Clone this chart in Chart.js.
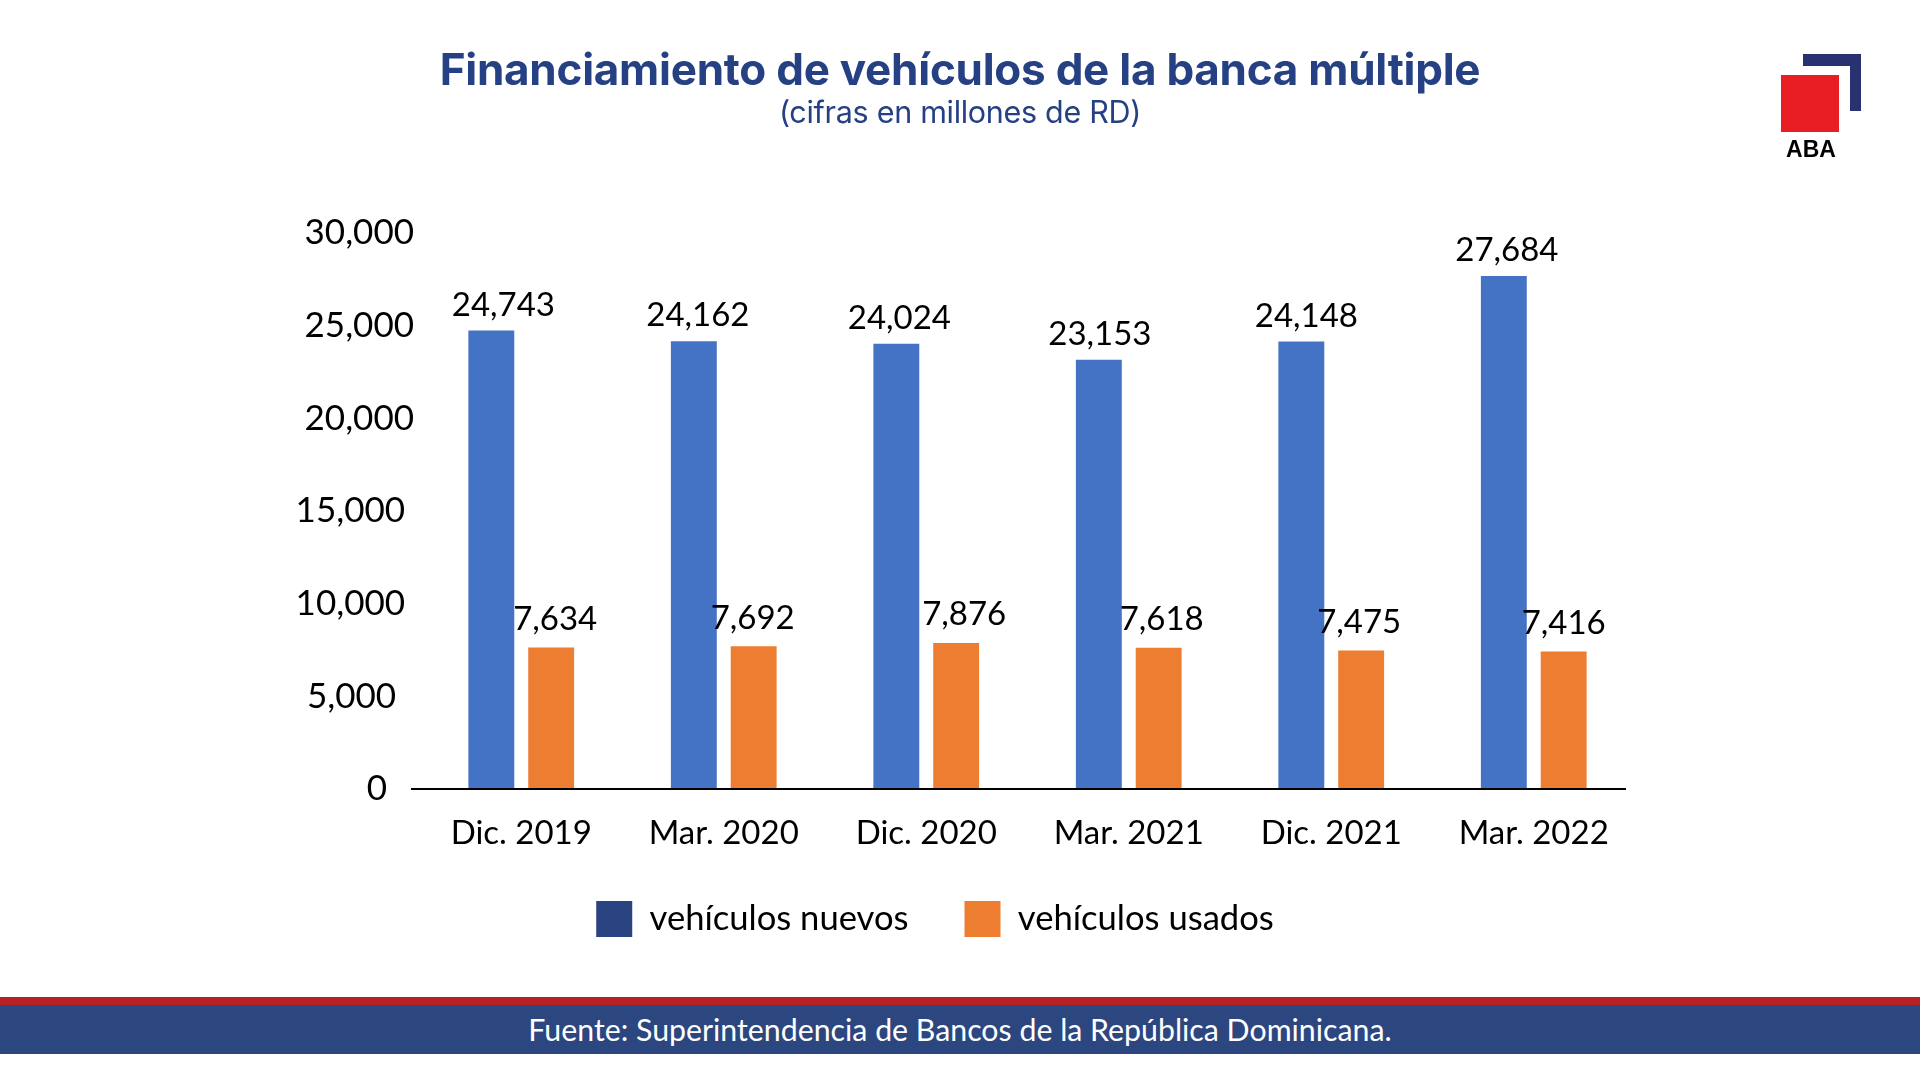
<!DOCTYPE html>
<html lang="es">
<head>
<meta charset="utf-8">
<title>Financiamiento de vehículos</title>
<script src="https://cdn.jsdelivr.net/npm/chart.js@4"></script>
<style>
  html,body{margin:0;padding:0;background:#fff;width:1920px;height:1080px;overflow:hidden;font-family:Lato,sans-serif}
  #wrap{position:absolute;left:0;top:0;width:1920px;height:980px}
  .abs{position:absolute}
  #t1{left:0;width:1920px;top:39px;text-align:center;font:700 44px Inter,sans-serif;color:#254184;letter-spacing:-0.25px;line-height:60px}
  #t2{left:0;width:1920px;top:92px;text-align:center;font:400 30.5px Inter,sans-serif;color:#254184;line-height:40px;letter-spacing:-.3px}
  #red{left:0;top:997px;width:1920px;height:8px;background:#B72025}
  #blue{left:0;top:1005px;width:1920px;height:49px;background:#2C4680;color:#fff;text-align:center;font:400 30.3px Lato,sans-serif;line-height:49px}
  #lg1{left:1803px;top:54px;width:58px;height:12px;background:#283270}
  #lg2{left:1850px;top:54px;width:11px;height:57px;background:#283270}
  #lg3{left:1781px;top:75px;width:58px;height:57px;background:#E91D24;box-shadow:0 0 0 1px #fff}
  #lg4{left:1761px;width:100px;top:135px;text-align:center;font:700 23px "Liberation Sans",sans-serif;color:#000;line-height:28px}
</style>
</head>
<body>
<div id="wrap"><canvas id="c" width="1920" height="980"></canvas></div>
<div class="abs" id="t1">Financiamiento de vehículos de la banca múltiple</div>
<div class="abs" id="t2">(cifras en millones de RD)</div>
<div class="abs" id="lg1"></div><div class="abs" id="lg2"></div><div class="abs" id="lg3"></div>
<div class="abs" id="lg4">ABA</div>
<div class="abs" id="red"></div>
<div class="abs" id="blue">Fuente: Superintendencia de Bancos de la República Dominicana.</div>
<script>
const categories = ["Dic. 2019","Mar. 2020","Dic. 2020","Mar. 2021","Dic. 2021","Mar. 2022"];
const nuevos = [24743,24162,24024,23153,24148,27684];
const usados = [7634,7692,7876,7618,7475,7416];
const seriesNames = ["vehículos nuevos","vehículos usados"];
const barColors = ["#4472C4","#ED7D31"];
const legendColors = ["#2A4482","#ED7D31"];
const yTicks = [0,5000,10000,15000,20000,25000,30000];
const yTickTrail = [3,2,1,1,0,0,0];

const labelFont = '33px Lato, sans-serif';
const labelDx = [[12,4,3,1,5,3],[4,-1,8,3,-2,0]];
const labelLift = [9,12];

const valueLabels = {
  id:'valueLabels',
  afterDatasetsDraw(chart){
    const ctx = chart.ctx;
    ctx.save();
    ctx.font = labelFont; ctx.fillStyle = '#000';
    ctx.textAlign = 'center'; ctx.textBaseline = 'bottom';
    chart.data.datasets.forEach((ds,i)=>{
      chart.getDatasetMeta(i).data.forEach((el,j)=>{
        ctx.fillText(ds.data[j].toLocaleString('en-US'), el.x + labelDx[i][j], el.y - labelLift[i]);
      });
    });
    ctx.restore();
  }
};
const baseLine = {
  id:'baseLine',
  afterLayout(chart){ chart.scales.x.bottom += 30; },
  afterDatasetsDraw(chart){
    const {ctx,chartArea:a,scales:{y}} = chart;
    ctx.save(); ctx.strokeStyle='#000'; ctx.lineWidth=2;
    ctx.beginPath(); ctx.moveTo(a.left-9,y.getPixelForValue(0)); ctx.lineTo(a.right-9,y.getPixelForValue(0)); ctx.stroke();
    ctx.restore();
  }
};

new Chart(document.getElementById('c'),{
  type:'bar',
  data:{labels:categories,datasets:[
    {label:seriesNames[0],data:nuevos,backgroundColor:barColors[0],categoryPercentage:0.591,barPercentage:0.767},
    {label:seriesNames[1],data:usados,backgroundColor:barColors[1],categoryPercentage:0.591,barPercentage:0.767}
  ]},
  options:{
    responsive:false,animation:false,
    layout:{padding:{top:233,left:235,right:285,bottom:33}},
    plugins:{
      title:{display:false},
      tooltip:{enabled:false},
      legend:{position:'bottom',labels:{
        boxWidth:36,boxHeight:36,padding:56,color:'#000',font:{family:'Lato, sans-serif',size:34.6},
        generateLabels:(chart)=>chart.data.datasets.map((d,i)=>({text:d.label,fillStyle:legendColors[i],strokeStyle:legendColors[i],lineWidth:0,datasetIndex:i}))
      }}
    },
    scales:{
      x:{grid:{display:false,drawTicks:false},border:{display:false},
         afterFit:s=>{s.height-=33.5},
         ticks:{color:'#000',font:{family:'Lato, sans-serif',size:33},padding:25,maxRotation:0}},
      y:{min:0,max:30000,grid:{display:false,drawTicks:false},border:{display:false},
         afterFit:s=>{s.width=185},
         afterBuildTicks:s=>{s.ticks=yTicks.map(v=>({value:v}))},
         ticks:{color:'#000',font:{family:'Lato, sans-serif',size:35},padding:6,
                callback:v=>v.toLocaleString('en-US')+' '.repeat(yTickTrail[yTicks.indexOf(v)])}}
    }
  },
  plugins:[valueLabels,baseLine]
});
</script>
</body>
</html>
